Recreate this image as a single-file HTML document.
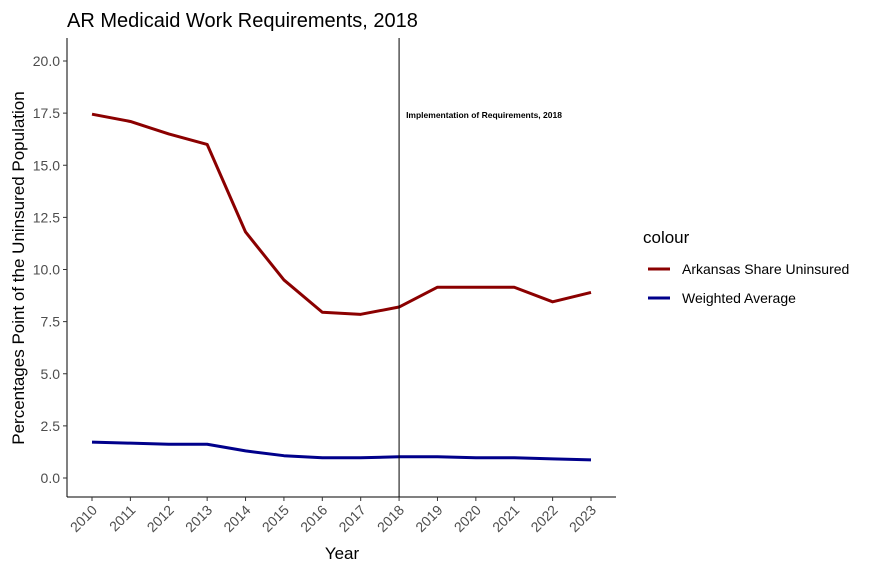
<!DOCTYPE html>
<html><head><meta charset="utf-8"><style>body{margin:0;background:#fff}svg{font-family:"Liberation Sans",sans-serif}</style></head>
<body>
<svg width="875" height="572" viewBox="0 0 875 572">
<text x="67" y="27" font-size="20" fill="#000">AR Medicaid Work Requirements, 2018</text>
<g id="plot"></g>
<text x="24" y="268" font-size="17" transform="rotate(-90 24 268)" text-anchor="middle">Percentages Point of the Uninsured Population</text>
<text x="342" y="559" font-size="17" text-anchor="middle">Year</text>
<g>
<text x="643" y="243" font-size="17">colour</text>
<line x1="648" y1="269" x2="670" y2="269" stroke="#8b0000" stroke-width="3"/>
<text x="682" y="274" font-size="14">Arkansas Share Uninsured</text>
<line x1="648" y1="298" x2="670" y2="298" stroke="#00008b" stroke-width="3"/>
<text x="682" y="303" font-size="14">Weighted Average</text>
</g>
</svg>
<script>
const years=[2010,2011,2012,2013,2014,2015,2016,2017,2018,2019,2020,2021,2022,2023];
const arkansas=[17.45,17.1,16.5,16.0,11.8,9.5,7.95,7.85,8.2,9.15,9.15,9.15,8.45,8.9];
const weighted=[1.72,1.67,1.62,1.62,1.3,1.07,0.97,0.97,1.02,1.02,0.97,0.97,0.92,0.87];
const yTicks=[0,2.5,5,7.5,10,12.5,15,17.5,20];
const vlineYear=2018;
const NS="http://www.w3.org/2000/svg";
const g=document.getElementById('plot');
const xs=y=>92+(y-2010)*(591-92)/13;
const ys=v=>478-v*(478-61)/20;
function mk(t,a,p){const e=document.createElementNS(NS,t);for(const k in a)e.setAttribute(k,a[k]);(p||g).appendChild(e);return e;}
const ax=mk('line',{x1:67,y1:38,x2:67,y2:497,stroke:'#000','stroke-width':1});


const bx=mk('line',{x1:67,y1:497,x2:616,y2:497,stroke:'#000','stroke-width':1});


yTicks.forEach(v=>{
 const y=ys(v);
 mk('line',{x1:63,y1:y,x2:67,y2:y,stroke:'#333'});
 const t=mk('text',{x:60,y:y+5,'font-size':14,'text-anchor':'end',fill:'#4d4d4d'});
 t.textContent=v.toFixed(1);
 
 
});
years.forEach(yr=>{
 const x=xs(yr);
 mk('line',{x1:x,y1:497,x2:x,y2:501,stroke:'#333'});
 const t=mk('text',{x:x+6,y:511,'font-size':14,'text-anchor':'end',fill:'#4d4d4d',transform:`rotate(-45 ${x+6} 511)`});
 t.textContent=yr;
 
 
});
function line(vals,col,name){
 const p=mk('polyline',{points:vals.map((v,i)=>xs(years[i])+','+ys(v)).join(' '),fill:'none',stroke:col,'stroke-width':3,'stroke-linejoin':'round'});
 
 
}
line(arkansas,'#8b0000','arkansas-line');
line(weighted,'#00008b','weighted-average-line');
const vx=xs(vlineYear);
const vl=mk('line',{x1:vx,y1:38,x2:vx,y2:497,stroke:'#000','stroke-width':1});


const an=mk('text',{x:vx+7,y:118,'font-size':8.5,'font-weight':'bold',fill:'#000'});
an.textContent='Implementation of Requirements, 2018';


</script>
</body></html>
